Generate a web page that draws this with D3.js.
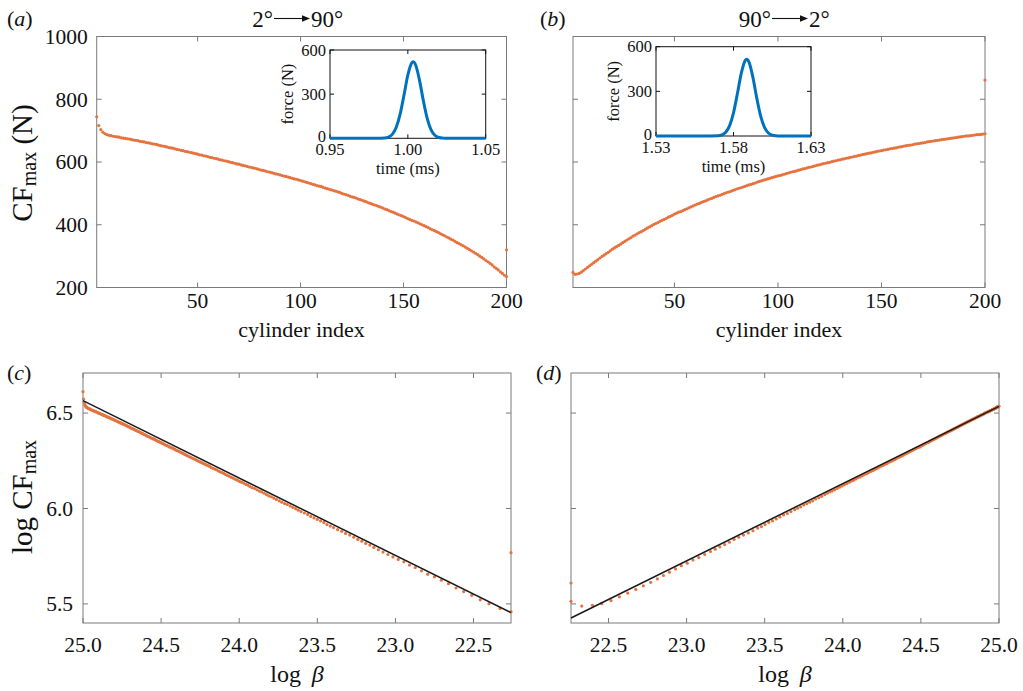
<!DOCTYPE html>
<html>
<head>
<meta charset="utf-8">
<script src="https://cdn.jsdelivr.net/npm/d3@7"></script>
<style>
  body { margin: 0; background: #fff; }
  svg text { font-family: "Liberation Serif", "Times New Roman", serif; fill: #111; }
</style>
</head>
<body>
<svg id="chart" width="1023" height="691"></svg>
<script>
// ---------- data ----------
// peak contact force of each cylinder, chain 2° -> 90° (cylinder 1..200)
const cfForward = [
  744,716,703,695,690,687,685,684,682,681,
  680,679,677,676,675,674,673,671,670,669,
  668,666,665,664,662,661,660,658,657,656,
  654,652,651,650,648,646,645,644,642,640,
  639,637,636,634,633,631,630,628,627,625,
  623,622,620,619,617,615,614,612,611,609,
  607,606,604,603,601,599,598,596,594,593,
  591,589,588,586,584,583,581,580,578,576,
  574,573,571,569,568,566,564,562,561,559,
  557,555,554,552,550,548,546,545,543,541,
  539,537,535,533,531,529,527,525,523,522,
  519,517,515,513,511,509,507,505,503,500,
  498,496,494,491,489,487,485,482,480,478,
  475,473,470,468,465,463,461,458,456,453,
  450,448,445,442,440,437,434,431,429,426,
  423,420,417,414,412,409,406,403,400,397,
  394,391,387,384,381,378,375,371,368,365,
  361,358,354,351,347,343,340,336,333,329,
  325,321,317,313,309,305,300,296,291,286,
  282,277,272,266,261,256,250,245,239,235
];
// peak contact force of each cylinder, chain 90° -> 2°
const cfReverse = [
  248,242,243,245,249,254,259,264,269,274,
  279,284,289,294,299,303,308,312,317,322,
  326,330,334,338,343,347,351,355,359,364,
  367,371,375,378,382,386,390,393,397,401,
  404,407,411,414,417,420,424,427,430,434,
  437,440,442,445,448,451,454,457,460,463,
  466,468,471,474,476,479,482,484,487,490,
  492,494,497,499,502,504,506,509,511,514,
  516,518,520,522,525,527,529,531,533,536,
  538,540,542,544,546,548,550,552,554,556,
  557,559,561,563,565,567,569,570,572,574,
  576,578,579,581,583,584,586,588,590,591,
  593,595,596,598,599,601,603,604,606,607,
  609,610,612,613,615,616,618,619,621,622,
  624,625,627,628,629,631,632,634,635,636,
  638,639,640,642,643,644,645,647,648,649,
  651,652,653,654,655,657,658,659,660,661,
  662,664,665,666,667,668,669,670,671,672,
  673,674,675,676,677,678,679,680,681,682,
  683,683,684,685,686,687,687,688,689,690
];
// log(beta) of each cylinder, chain 2° -> 90°
const logBetaForward = [
  25.000,24.996,24.992,24.988,24.984,24.980,24.976,24.972,24.968,24.964,
  24.959,24.954,24.949,24.944,24.940,24.935,24.930,24.925,24.920,24.915,
  24.909,24.904,24.898,24.893,24.887,24.881,24.876,24.870,24.865,24.859,
  24.853,24.846,24.840,24.833,24.827,24.821,24.814,24.808,24.802,24.795,
  24.789,24.782,24.776,24.770,24.763,24.757,24.750,24.744,24.738,24.731,
  24.725,24.718,24.712,24.706,24.699,24.693,24.686,24.680,24.674,24.667,
  24.660,24.654,24.647,24.640,24.634,24.627,24.620,24.613,24.607,24.600,
  24.593,24.586,24.579,24.572,24.565,24.557,24.550,24.543,24.536,24.529,
  24.522,24.514,24.507,24.499,24.492,24.484,24.477,24.469,24.462,24.454,
  24.446,24.438,24.429,24.421,24.413,24.405,24.397,24.388,24.380,24.372,
  24.363,24.354,24.345,24.336,24.327,24.317,24.308,24.299,24.290,24.281,
  24.271,24.261,24.250,24.240,24.230,24.220,24.210,24.199,24.189,24.179,
  24.168,24.156,24.145,24.133,24.122,24.110,24.099,24.087,24.076,24.064,
  24.051,24.038,24.024,24.011,23.998,23.985,23.972,23.958,23.945,23.932,
  23.917,23.901,23.886,23.871,23.856,23.840,23.825,23.810,23.794,23.779,
  23.762,23.744,23.727,23.709,23.692,23.674,23.657,23.639,23.622,23.604,
  23.583,23.562,23.542,23.521,23.500,23.479,23.458,23.438,23.417,23.396,
  23.370,23.344,23.319,23.293,23.267,23.241,23.215,23.190,23.164,23.138,
  23.109,23.079,23.048,23.016,22.982,22.946,22.910,22.873,22.833,22.793,
  22.750,22.706,22.660,22.612,22.563,22.511,22.457,22.401,22.330,22.260
];
// log(beta) of each cylinder, chain 90° -> 2°
const logBetaReverse = [
  22.260,22.329,22.397,22.457,22.516,22.570,22.623,22.675,22.723,22.770,
  22.813,22.852,22.890,22.929,22.966,23.004,23.041,23.078,23.116,23.153,
  23.183,23.213,23.244,23.274,23.304,23.334,23.364,23.395,23.425,23.455,
  23.479,23.502,23.526,23.550,23.574,23.597,23.621,23.645,23.668,23.692,
  23.711,23.730,23.750,23.769,23.788,23.807,23.826,23.846,23.865,23.884,
  23.900,23.916,23.931,23.947,23.963,23.979,23.995,24.010,24.026,24.042,
  24.056,24.069,24.083,24.097,24.111,24.124,24.138,24.152,24.165,24.179,
  24.191,24.202,24.214,24.225,24.237,24.249,24.260,24.272,24.283,24.295,
  24.305,24.315,24.325,24.335,24.346,24.356,24.366,24.376,24.386,24.396,
  24.405,24.414,24.422,24.431,24.440,24.449,24.458,24.466,24.475,24.484,
  24.492,24.499,24.507,24.514,24.522,24.530,24.537,24.545,24.552,24.560,
  24.567,24.574,24.581,24.588,24.595,24.601,24.608,24.615,24.622,24.629,
  24.635,24.642,24.648,24.655,24.661,24.667,24.674,24.680,24.687,24.693,
  24.699,24.705,24.710,24.716,24.722,24.728,24.734,24.739,24.745,24.751,
  24.756,24.761,24.767,24.772,24.777,24.782,24.787,24.793,24.798,24.803,
  24.808,24.813,24.818,24.823,24.828,24.833,24.838,24.843,24.848,24.853,
  24.858,24.862,24.867,24.871,24.876,24.880,24.885,24.889,24.894,24.898,
  24.902,24.906,24.910,24.914,24.919,24.923,24.927,24.931,24.935,24.939,
  24.943,24.946,24.950,24.954,24.957,24.961,24.965,24.969,24.972,24.976,
  24.978,24.981,24.983,24.986,24.988,24.990,24.993,24.995,24.998,25.000
];
// extra readings at the chain ends
const forwardEndExtra = [{ index: 200, cf: 320 }];
const reverseEndExtra = [{ index: 200, cf: 861 }];
const reverseStartExtra = [{ index: 1, cf: 273 }];
// power-law fits (log beta, log CF) at both ends of the range
const fitForward = [[25.0, 6.565], [22.26, 5.454]];
const fitReverse = [[22.26, 5.426], [25.0, 6.535]];

// force–time pulse of one contact (insets)
const pulseTimeA  = [0.95,0.97,0.98,0.985,0.9875,0.99,0.9925,0.995,0.9975,1.0,1.0025,1.0034,1.005,1.0075,1.01,1.0125,1.015,1.0175,1.02,1.0225,1.025,1.035,1.05];
const pulseForceA = [0,0,0,2,8,27,73,162,292,430,513,520,498,394,253,132,56,19,5.5,1.2,0,0,0];
const pulseTimeB  = [1.53,1.55,1.56,1.57,1.5725,1.575,1.5775,1.58,1.5825,1.585,1.5875,1.5885,1.59,1.5925,1.595,1.5975,1.6,1.6025,1.605,1.6075,1.61,1.62,1.63];
const pulseForceB = [0,0,0,1.8,7.5,25,70,156,284,421,507,515,496,395,256,135,58,20,5.7,1.3,0,0,0];

// ticks
const indexTicks = [50, 100, 150, 200];
const cfTicks = [200, 400, 600, 800, 1000];
const logBetaTicks = [22.5, 23.0, 23.5, 24.0, 24.5, 25.0];
const logCfTicks = [5.5, 6.0, 6.5];
const forceTicks = [0, 300, 600];
const timeTicksA = [0.95, 1.00, 1.05];
const timeTicksB = [1.53, 1.58, 1.63];

// ---------- drawing ----------
const SERIF = "Liberation Serif, Times New Roman, serif";
const svg = d3.select("#chart");
svg.append("rect").attr("width", 1023).attr("height", 691).attr("fill", "#fff");

const AXIS = "#7a7a7a";
const DOT = "#e5733f";
const PULSE = "#0072BD";
const TICK_FONT = 21.5;

function txt(parent) {
  return parent.append("text").attr("font-family", SERIF).attr("fill", "#111");
}

function frame(g, x, y, o) {
  const [x0, x1] = x.range(), [y0, y1] = y.range();
  const L = Math.min(x0, x1), R = Math.max(x0, x1), T = Math.min(y0, y1), B = Math.max(y0, y1);
  const col = o.color || AXIS, tl = o.tickLen || 5;
  g.append("rect").attr("x", L).attr("y", T).attr("width", R - L).attr("height", B - T)
    .attr("fill", o.fill || "none").attr("stroke", col).attr("stroke-width", o.sw || 1);
  o.xTicks.forEach(v => {
    const px = x(v);
    g.append("line").attr("x1", px).attr("x2", px).attr("y1", B).attr("y2", B - tl).attr("stroke", col);
    g.append("line").attr("x1", px).attr("x2", px).attr("y1", T).attr("y2", T + tl).attr("stroke", col);
    if (o.xLabels) txt(g).attr("x", px).attr("y", B + o.xGap).attr("text-anchor", "middle")
      .attr("font-size", o.font).text(o.xFmt(v));
  });
  o.yTicks.forEach(v => {
    const py = y(v);
    g.append("line").attr("x1", L).attr("x2", L + tl).attr("y1", py).attr("y2", py).attr("stroke", col);
    g.append("line").attr("x1", R).attr("x2", R - tl).attr("y1", py).attr("y2", py).attr("stroke", col);
    if (o.yLabels) txt(g).attr("x", L - o.yGap).attr("y", py + (o.yShift ? o.yShift(v) : 0)).attr("dy", "0.34em")
      .attr("text-anchor", "end").attr("font-size", o.font).text(o.yFmt(v));
  });
}

function dots(g, pts, x, y) {
  const [ya, yb] = y.domain();
  g.selectAll(null).data(pts.filter(p => p[1] >= Math.min(ya, yb) && p[1] <= Math.max(ya, yb)))
    .join("circle").attr("cx", p => x(p[0])).attr("cy", p => y(p[1])).attr("r", 1.6).attr("fill", DOT);
}

function panelLetter(x, y, letter) {
  const t = txt(svg).attr("x", x).attr("y", y).attr("font-size", 22);
  t.append("tspan").text("(");
  t.append("tspan").attr("font-style", "italic").text(letter);
  t.append("tspan").text(")");
}

function title(cx, y, left, right) {
  const g = svg.append("g");
  const arrowLen = 36;
  txt(g).attr("x", cx - arrowLen / 2 - 1).attr("y", y).attr("text-anchor", "end").attr("font-size", 23).text(left);
  txt(g).attr("x", cx + arrowLen / 2 + 1).attr("y", y).attr("text-anchor", "start").attr("font-size", 23).text(right);
  const ay = y - 8.5;
  g.append("line").attr("x1", cx - arrowLen / 2).attr("x2", cx + arrowLen / 2 - 6).attr("y1", ay).attr("y2", ay)
    .attr("stroke", "#111").attr("stroke-width", 1.1);
  g.append("path").attr("d", `M${cx + arrowLen / 2},${ay} l-8,-3.2 l0,6.4 z`).attr("fill", "#111");
}

function yLabel(x, y, pre, withUnit) {
  const t = txt(svg).attr("transform", `translate(${x},${y}) rotate(-90)`)
    .attr("text-anchor", "middle").attr("font-size", 29);
  t.append("tspan").text(pre + "CF");
  t.append("tspan").attr("font-size", 20).attr("dy", 4).text("max");
  if (withUnit) t.append("tspan").attr("dy", -4).text(" (N)");
}

function xLabelBeta(cx, y) {
  const t = txt(svg).attr("x", cx).attr("y", y).attr("text-anchor", "middle").attr("font-size", 24);
  t.append("tspan").text("log\u2009 ");
  t.append("tspan").attr("font-style", "italic").text("β");
}

const idx = d3.range(1, 201);

// ----- panel (a) -----
const xa = d3.scaleLinear([1, 200], [96.7, 506.5]);
const ya = d3.scaleLinear([200, 1000], [287.5, 36.5]);
const ga = svg.append("g");
frame(ga, xa, ya, { xTicks: indexTicks, yTicks: cfTicks, xLabels: true, yLabels: true,
  xGap: 20.5, yGap: 9, font: TICK_FONT, xFmt: d3.format("d"), yFmt: d3.format("d") });
dots(ga, idx.map((i, k) => [i, cfForward[k]]).concat(forwardEndExtra.map(e => [e.index, e.cf])), xa, ya);

// ----- panel (b) -----
const xb = d3.scaleLinear([1, 200], [573, 985]);
const yb = ya.copy();
const gb = svg.append("g");
frame(gb, xb, yb, { xTicks: indexTicks, yTicks: cfTicks, xLabels: true, yLabels: false,
  xGap: 20.5, yGap: 9, font: TICK_FONT, xFmt: d3.format("d") });
dots(gb, idx.map((i, k) => [i, cfReverse[k]]).concat(reverseEndExtra.map(e => [e.index, e.cf])), xb, yb);

txt(svg).attr("x", 301.6).attr("y", 337).attr("text-anchor", "middle").attr("font-size", 22).text("cylinder index");
txt(svg).attr("x", 779).attr("y", 337).attr("text-anchor", "middle").attr("font-size", 22).text("cylinder index");
yLabel(32, 163, "", true);

// ----- insets -----
function inset(xs, ys, times, forces, xt) {
  const g = svg.append("g");
  frame(g, xs, ys, { xTicks: xt, yTicks: forceTicks, xLabels: true, yLabels: true, color: "#111", fill: "#fff",
    tickLen: 4, xGap: 17, yGap: 4, font: 16.5, xFmt: d3.format(".2f"), yFmt: d3.format("d"),
    yShift: v => (v === 0 ? -2 : 0) });
  const line = d3.line().x((d, i) => xs(times[i])).y(d => ys(d)).curve(d3.curveMonotoneX);
  g.append("path").attr("d", line(forces)).attr("fill", "none").attr("stroke", PULSE).attr("stroke-width", 3);
  const [l, r] = xs.range(), [b, t] = ys.range();
  txt(g).attr("x", (l + r) / 2).attr("y", b + 36).attr("text-anchor", "middle").attr("font-size", 16.5).text("time (ms)");
  txt(g).attr("transform", `translate(${l - 37},${(b + t) / 2}) rotate(-90)`)
    .attr("text-anchor", "middle").attr("font-size", 16.5).text("force (N)");
}
inset(d3.scaleLinear([0.95, 1.05], [330, 485.7]), d3.scaleLinear([0, 600], [138.3, 50]), pulseTimeA, pulseForceA, timeTicksA);
inset(d3.scaleLinear([1.53, 1.63], [656, 811]), d3.scaleLinear([0, 600], [136, 46.7]), pulseTimeB, pulseForceB, timeTicksB);

// ----- panel (c) -----
const xc = d3.scaleLinear([25.0, 22.26], [83, 511]);
const yc = d3.scaleLinear([5.4, 6.71], [623, 373]);
const gc = svg.append("g");
frame(gc, xc, yc, { xTicks: logBetaTicks, yTicks: logCfTicks, xLabels: true, yLabels: true,
  xGap: 28.5, yGap: 10, font: TICK_FONT, xFmt: d3.format(".1f"), yFmt: d3.format(".1f") });
const ptsC = cfForward.map((v, k) => [logBetaForward[k], Math.log(v)])
  .concat(forwardEndExtra.map(e => [logBetaForward[e.index - 1], Math.log(e.cf)]));
dots(gc, ptsC, xc, yc);
gc.append("line").attr("x1", xc(fitForward[0][0])).attr("y1", yc(fitForward[0][1]))
  .attr("x2", xc(fitForward[1][0])).attr("y2", yc(fitForward[1][1])).attr("stroke", "#1a1a1a").attr("stroke-width", 1.5);

// ----- panel (d) -----
const xd = d3.scaleLinear([22.26, 25.0], [571, 999]);
const yd = yc.copy();
const gd = svg.append("g");
frame(gd, xd, yd, { xTicks: logBetaTicks, yTicks: logCfTicks, xLabels: true, yLabels: false,
  xGap: 28.5, yGap: 10, font: TICK_FONT, xFmt: d3.format(".1f") });
const ptsD = cfReverse.map((v, k) => [logBetaReverse[k], Math.log(v)])
  .concat(reverseEndExtra.map(e => [logBetaReverse[e.index - 1], Math.log(e.cf)]))
  .concat(reverseStartExtra.map(e => [logBetaReverse[e.index - 1], Math.log(e.cf)]));
dots(gd, ptsD, xd, yd);
gd.append("line").attr("x1", xd(fitReverse[0][0])).attr("y1", yd(fitReverse[0][1]))
  .attr("x2", xd(fitReverse[1][0])).attr("y2", yd(fitReverse[1][1])).attr("stroke", "#1a1a1a").attr("stroke-width", 1.5);

xLabelBeta(297, 682);
xLabelBeta(785, 682);
yLabel(32, 497, "log ", false);

// ----- panel letters and titles -----
panelLetter(7, 26, "a");
panelLetter(540, 26, "b");
panelLetter(7, 380, "c");
panelLetter(536, 380, "d");
title(292, 27, "2°", "90°");
title(790, 27, "90°", "2°");
</script>
</body>
</html>
